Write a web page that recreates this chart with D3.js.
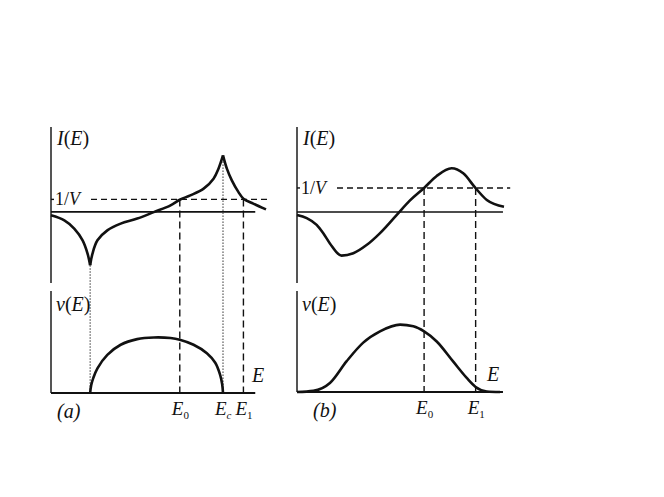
<!DOCTYPE html>
<html>
<head>
<meta charset="utf-8">
<script src="https://cdn.jsdelivr.net/npm/d3@7"></script>
<style>
body { margin: 0; background: #fff; }
</style>
</head>
<body>
<div></div>
<script>
// panel (a): I(E) branches, split at the cusps
var aLeftE = [0, 0.62, 1.08, 1.47, 1.7, 1.82];
var aLeftI = [-0.28, -0.68, -1.34, -2.28, -3.34, -4.28];
var aMidE = [1.82, 1.93, 2.16, 2.62, 3.24, 4.01, 4.78, 5.56, 5.99, 6.48, 7.1, 7.56, 7.79, 8.0];
var aMidI = [-4.28, -3.34, -2.28, -1.48, -0.94, -0.54, -0.02, 0.52, 0.97, 1.32, 1.86, 2.66, 3.46, 4.52];
var aRightE = [8.0, 8.18, 8.41, 8.72, 8.95, 9.41, 10];
var aRightI = [4.52, 3.46, 2.52, 1.58, 1.06, 0.66, 0.2];
// panel (a): nu(E)
var aNuE = [1.82, 1.87, 1.97, 2.16, 2.62, 3.24, 4.01, 4.78, 5.56, 5.99, 6.63, 7.25, 7.64, 7.87, 7.96, 8.0];
var aNu = [0, 0.14, 0.27, 0.44, 0.68, 0.86, 0.96, 0.99, 0.98, 0.95, 0.86, 0.71, 0.54, 0.32, 0.16, 0];
// panel (a): marked energies
var aE0 = 5.99, aEc = 8.0, aE1 = 8.95, aCusp = 1.82;

// panel (b)
var bE = [0, 0.47, 0.95, 1.27, 1.59, 2.15, 2.72, 3.36, 4.0, 4.81, 5.46, 6.14, 6.75, 7.47, 8.03, 8.63, 9.17, 10.0];
var bI = [-0.13, -0.26, -0.54, -0.89, -1.31, -1.82, -1.72, -1.38, -0.89, -0.13, 0.48, 1.0, 1.5, 1.82, 1.61, 0.99, 0.5, 0.22];
var bNuE = [0, 0.79, 1.59, 2.4, 3.2, 4.01, 4.98, 5.62, 6.14, 6.75, 7.55, 8.2, 8.63, 9.17, 9.81];
var bNu = [0, 0.02, 0.16, 0.55, 0.88, 1.08, 1.2, 1.17, 1.08, 0.9, 0.54, 0.25, 0.09, 0.01, 0];
var bE0 = 6.14, bE1 = 8.63;

var invV = 1; // level of the 1/V line

var serif = "'Liberation Serif', 'Times New Roman', 'DejaVu Serif', serif";

var svg = d3.select("div").append("svg")
    .attr("width", 664)
    .attr("height", 497)
    .style("display", "block");

function zip(xs, ys) {
    return xs.map(function(d, i) { return [d, ys[i]]; });
}

function panel(cfg) {
    var g = svg.append("g").attr("font-family", serif).attr("fill", "#111");
    var x = d3.scaleLinear().domain([0, 10]).range(cfg.xRange);
    var yI = d3.scaleLinear().domain(cfg.iDomain).range([283, 127]);
    var yN = d3.scaleLinear().domain([0, 1.8]).range([cfg.base, cfg.base - 101]);

    var lineI = d3.line()
        .x(function(d) { return x(d[0]); })
        .y(function(d) { return yI(d[1]); })
        .curve(cfg.curve);
    var lineN = d3.line()
        .x(function(d) { return x(d[0]); })
        .y(function(d) { return yN(d[1]); })
        .curve(cfg.curve);

    var x0 = x(0);
    // vertical axes
    g.append("line").attr("x1", x0).attr("x2", x0).attr("y1", 127).attr("y2", 283)
        .attr("stroke", "#555").attr("stroke-width", 2);
    g.append("line").attr("x1", x0).attr("x2", x0).attr("y1", 291).attr("y2", cfg.base)
        .attr("stroke", "#555").attr("stroke-width", 2);

    // zero line of I(E) and baseline of nu(E)
    g.append("line").attr("x1", x0).attr("x2", x(cfg.zeroEnd))
        .attr("y1", yI(0)).attr("y2", yI(0))
        .attr("stroke", "#111").attr("stroke-width", 1.6);
    g.append("line").attr("x1", x0).attr("x2", x(cfg.zeroEnd))
        .attr("y1", cfg.base).attr("y2", cfg.base)
        .attr("stroke", "#111").attr("stroke-width", 2.2);

    // 1/V dashed level
    g.append("line").attr("x1", x0).attr("x2", x0 + 3)
        .attr("y1", yI(invV)).attr("y2", yI(invV))
        .attr("stroke", "#111").attr("stroke-width", 1.4);
    g.append("line").attr("x1", x0 + 40).attr("x2", x(cfg.dashEnd))
        .attr("y1", yI(invV)).attr("y2", yI(invV))
        .attr("stroke", "#111").attr("stroke-width", 1.4)
        .attr("stroke-dasharray", "6,4");
    var t = g.append("text").attr("x", x0 + 4).attr("y", yI(invV) + 6)
        .style("font-size", "18px");
    t.append("tspan").text("1/");
    t.append("tspan").style("font-style", "italic").text("V");

    // vertical markers
    cfg.marks.forEach(function(m) {
        g.append("line").attr("x1", x(m.e)).attr("x2", x(m.e))
            .attr("y1", m.dotted ? yI(m.top) : yI(invV)).attr("y2", cfg.base)
            .attr("stroke", m.dotted ? "#333" : "#111")
            .attr("stroke-width", m.dotted ? 1 : 1.4)
            .attr("stroke-dasharray", m.dotted ? "1.5,1.5" : "7,4");
    });

    // curves
    cfg.iSeries.forEach(function(s) {
        g.append("path").attr("d", lineI(s))
            .attr("fill", "none").attr("stroke", "#111").attr("stroke-width", 2.6);
    });
    g.append("path").attr("d", lineN(cfg.nuSeries))
        .attr("fill", "none").attr("stroke", "#111").attr("stroke-width", 2.6);

    // labels
    function fnLabel(xp, yp, name) {
        var tt = g.append("text").attr("x", xp).attr("y", yp).style("font-size", "20px");
        tt.append("tspan").style("font-style", "italic").text(name);
        tt.append("tspan").text("(");
        tt.append("tspan").style("font-style", "italic").text("E");
        tt.append("tspan").text(")");
    }
    fnLabel(x0 + 6, 145, "I");
    fnLabel(x0 + 5, 311, "\u03bd");

    g.append("text").attr("x", cfg.eLabelX).attr("y", cfg.base - 11)
        .style("font-size", "20px").style("font-style", "italic").text("E");
    g.append("text").attr("x", x0 + cfg.tagDx).attr("y", cfg.base + 25)
        .style("font-size", "20px").style("font-style", "italic").text(cfg.tag);

    cfg.eLabels.forEach(function(l) {
        var tt = g.append("text").attr("x", x(l.e) - 8).attr("y", cfg.base + 22)
            .style("font-size", "19px");
        tt.append("tspan").style("font-style", "italic").text("E");
        tt.append("tspan").attr("dy", 4).style("font-size", "11px")
            .style("font-style", l.sub === "c" ? "italic" : "normal").text(l.sub);
    });
}

panel({
    xRange: [51, 266],
    iDomain: [-5.7, 6.8],
    base: 393,
    zeroEnd: 9.5,
    dashEnd: 10.05,
    curve: d3.curveCatmullRom.alpha(0.5),
    iSeries: [zip(aLeftE, aLeftI), zip(aMidE, aMidI), zip(aRightE, aRightI)],
    nuSeries: zip(aNuE, aNu),
    marks: [
        { e: aCusp, dotted: true, top: -4.28 },
        { e: aE0 },
        { e: aEc, dotted: true, top: 4.52 },
        { e: aE1 }
    ],
    eLabels: [{ e: aE0, sub: "0" }, { e: aEc, sub: "c" }, { e: aE1, sub: "1" }],
    eLabelX: 252,
    tag: "(a)",
    tagDx: 6
});

panel({
    xRange: [297, 504],
    iDomain: [-2.96, 3.54],
    base: 392,
    zeroEnd: 9.95,
    dashEnd: 10.3,
    curve: d3.curveMonotoneX,
    iSeries: [zip(bE, bI)],
    nuSeries: zip(bNuE, bNu),
    marks: [{ e: bE0 }, { e: bE1 }],
    eLabels: [{ e: bE0, sub: "0" }, { e: bE1, sub: "1" }],
    eLabelX: 487,
    tag: "(b)",
    tagDx: 16
});
</script>
</body>
</html>
